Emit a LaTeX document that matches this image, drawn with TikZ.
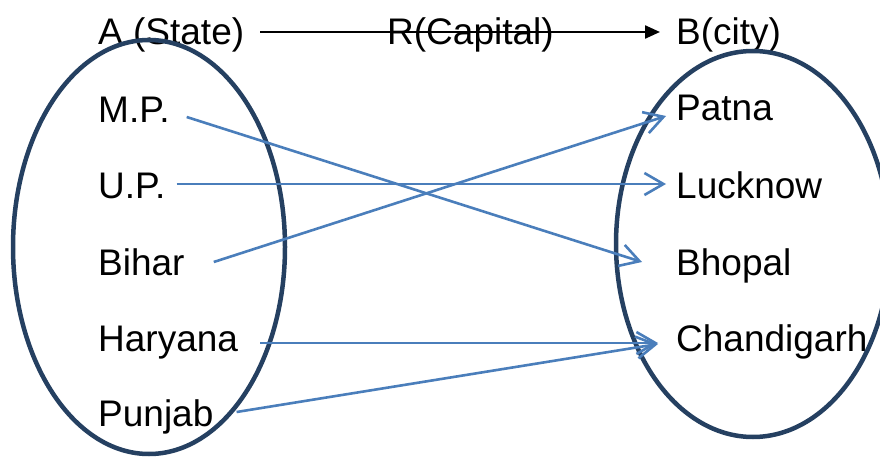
\documentclass[tikz,border=0pt]{standalone}
\usepackage{fontspec}
\setmainfont{Liberation Sans}
\usetikzlibrary{arrows.meta,shapes.geometric}
\definecolor{ringc}{RGB}{37,64,97}
\definecolor{linkc}{RGB}{74,126,187}
\begin{document}
\begin{tikzpicture}[x=1pt,y=-1pt,
  lbl/.style={anchor=base west,inner sep=0pt,font=\fontsize{37}{40}\selectfont},
  ring/.style={draw=ringc,line width=4.5pt,ellipse,inner sep=0pt},
  link/.style={draw=linkc,line width=2.6pt,-{Straight Barb[length=19pt,width=22pt]}},
  rel/.style={draw=black,line width=2.3pt,-{Triangle[length=15pt,width=13pt]}}]
\useasboundingbox (0,0) rectangle (880,457);
% texts
\node[lbl] (A) at (98,45) {A (State)};
\node[lbl] (R) at (387,45) {R(Capital)};
\node[lbl] (B) at (676,45) {B(city)};
\node[lbl] (mp) at (98,123) {M.P.};
\node[lbl] (up) at (98,199) {U.P.};
\node[lbl] (bi) at (98,275) {Bihar};
\node[lbl] (ha) at (98,351) {Haryana};
\node[lbl] (pu) at (98,426) {Punjab};
\node[lbl] (pa) at (676,121) {Patna};
\node[lbl] (lu) at (676,198) {Lucknow};
\node[lbl] (bh) at (676,275) {Bhopal};
\node[lbl] (ch) at (676,351) {Chandigarh};
% sets
\node[ring,minimum width=272pt,minimum height=414pt] (Lset) at (149,247) {};
\node[ring,minimum width=274pt,minimum height=386pt] (Rset) at (753,244) {};
% relation arrow
\draw[rel] ([xshift=16pt,yshift=13pt]A.base east) -- ([xshift=-16pt,yshift=13pt]B.base west);
% mappings
\draw[link] ([xshift=17pt,yshift=6pt]mp.base east) -- ([xshift=-34pt,yshift=13pt]bh.base west);
\draw[link] ([xshift=11pt,yshift=15pt]up.base east) -- ([xshift=-10pt,yshift=14pt]lu.base west);
\draw[link] ([xshift=29pt,yshift=13pt]bi.base east) -- ([xshift=-10pt,yshift=5pt]pa.base west);
\draw[link] ([xshift=22pt,yshift=8pt]ha.base east) -- ([xshift=-18pt,yshift=8pt]ch.base west);
\draw[link] ([xshift=23pt,yshift=14pt]pu.base east) -- ([xshift=-18pt,yshift=7pt]ch.base west);
\end{tikzpicture}
\end{document}
